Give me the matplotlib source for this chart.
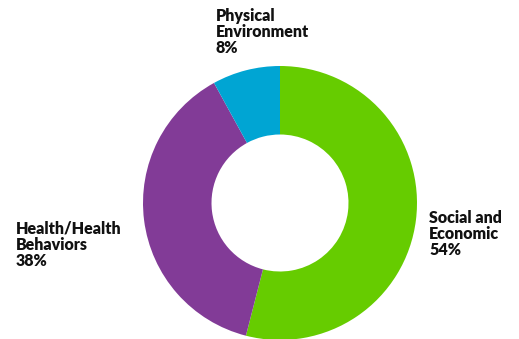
import matplotlib.pyplot as plt

labels = ['Social and\nEconomic', 'Health/Health\nBehaviors', 'Physical\nEnvironment']
shares = [54, 38, 8]
colors = ['#66cc00', '#823b97', '#00a5d3']

W, H = 519, 339
fig = plt.figure(figsize=(W / 100, H / 100), dpi=100)

# ring sits at centre (280, 203), outer radius 137 px
cx, cy, R = 280, 203, 137
ax = fig.add_axes([(cx - R) / W, (H - cy - R) / H, 2 * R / W, 2 * R / H])
ax.pie(shares, colors=colors, startangle=90, counterclock=False,
       radius=1, wedgeprops=dict(width=0.5, linewidth=0))
ax.set_xlim(-1, 1)
ax.set_ylim(-1, 1)
ax.set_aspect('equal')
ax.axis('off')

# label anchors (top-left corner, pixels)
spots = [(429, 210), (16, 221), (216, 8)]
for lab, val, (x, y) in zip(labels, shares, spots):
    fig.text(x / W, 1 - y / H, f'{lab}\n{val}%', ha='left', va='top',
             fontsize=11.5, fontweight='heavy', family='Lato',
             linespacing=1.0, color='#111111')

fig.savefig('out.png', dpi=100)
